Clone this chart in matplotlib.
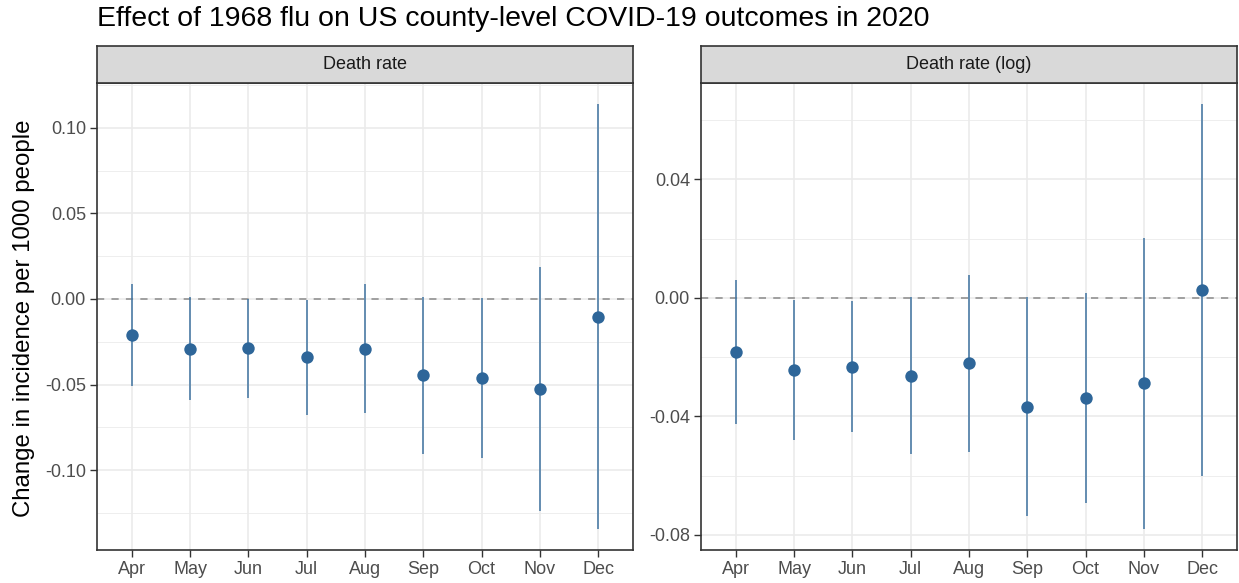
import matplotlib.pyplot as plt
import matplotlib.ticker as mticker
import numpy as np

plt.rcParams['font.family'] = ['Liberation Sans', 'DejaVu Sans']

months = ['Apr', 'May', 'Jun', 'Jul', 'Aug', 'Sep', 'Oct', 'Nov', 'Dec']

# Death rate (per 1000)
rate_est = [-0.0210, -0.0292, -0.0286, -0.0340, -0.0290, -0.0444, -0.0459, -0.0527, -0.0105]
rate_lo = [-0.0506, -0.0590, -0.0576, -0.0677, -0.0667, -0.0905, -0.0930, -0.1240, -0.1343]
rate_hi = [0.0086, 0.0010, 0.0000, -0.0006, 0.0087, 0.0014, 0.0008, 0.0185, 0.1138]

# Death rate (log)
log_est = [-0.0183, -0.0243, -0.0232, -0.0262, -0.0221, -0.0369, -0.0339, -0.0287, 0.0026]
log_lo = [-0.0426, -0.0480, -0.0453, -0.0528, -0.0521, -0.0737, -0.0693, -0.0779, -0.0602]
log_hi = [0.0061, -0.0007, -0.0009, 0.0004, 0.0079, 0.0002, 0.0016, 0.0203, 0.0654]

panels = [
    ('Death rate', rate_est, rate_lo, rate_hi, 0.05, '%.2f'),
    ('Death rate (log)', log_est, log_lo, log_hi, 0.04, '%.2f'),
]

W, H = 1239, 583
fig = plt.figure(figsize=(W / 100, H / 100), dpi=100)

point_col = '#2e6699'
line_col = '#3f73a0'
grid_col = '#ebebeb'
frame_col = '#333333'
axis_txt = '#4d4d4d'

lefts = [97, 701]
pw = 536
top, bottom = 83, 550
strip_h = 37

for (name, est, lo, hi, step, fmt), left in zip(panels, lefts):
    ax = fig.add_axes([left / W, 1 - bottom / H, pw / W, (bottom - top) / H])
    x = np.arange(len(months))
    ax.vlines(x, lo, hi, color=line_col, lw=1.1, zorder=3)
    ax.scatter(x, est, s=80, color=point_col, zorder=4, linewidths=0)
    ax.axhline(0, color='#999999', lw=1.3, ls=(0, (4, 4)), zorder=2)

    ymin, ymax = min(lo), max(hi)
    pad = (ymax - ymin) * 0.05
    ax.set_ylim(ymin - pad, ymax + pad)
    ax.set_xlim(-0.6, len(months) - 0.4)
    ax.set_xticks(x)
    ax.set_xticklabels(months)
    ax.yaxis.set_major_locator(mticker.MultipleLocator(step))
    ax.yaxis.set_minor_locator(mticker.MultipleLocator(step / 2))
    ax.yaxis.set_major_formatter(mticker.FormatStrFormatter(fmt))

    ax.grid(True, which='major', color=grid_col, lw=1.2, zorder=0)
    ax.grid(True, which='minor', axis='y', color=grid_col, lw=0.6, zorder=0)
    ax.set_axisbelow(True)
    ax.tick_params(axis='both', which='major', length=5, width=1, color=frame_col,
                   labelsize=13, labelcolor=axis_txt, pad=3)
    ax.tick_params(axis='y', which='minor', length=0)
    for sp in ax.spines.values():
        sp.set_color(frame_col)
        sp.set_linewidth(1.2)

    # facet strip
    sax = fig.add_axes([left / W, 1 - top / H, pw / W, strip_h / H])
    sax.set_facecolor('#d9d9d9')
    sax.set_xticks([])
    sax.set_yticks([])
    for sp in sax.spines.values():
        sp.set_color(frame_col)
        sp.set_linewidth(1.2)
    sax.text(0.5, 0.5, name, ha='center', va='center', fontsize=13,
             color='#1a1a1a', transform=sax.transAxes)

fig.text(97 / W, 1 - 19 / H, 'Effect of 1968 flu on US county-level COVID-19 outcomes in 2020',
         ha='left', va='center', fontsize=20.5, color='black')
fig.text(24 / W, 1 - 318 / H, 'Change in incidence per 1000 people', rotation=90,
         ha='center', va='center', fontsize=17.3, color='black')

fig.savefig('out.png', dpi=100, facecolor='white')
